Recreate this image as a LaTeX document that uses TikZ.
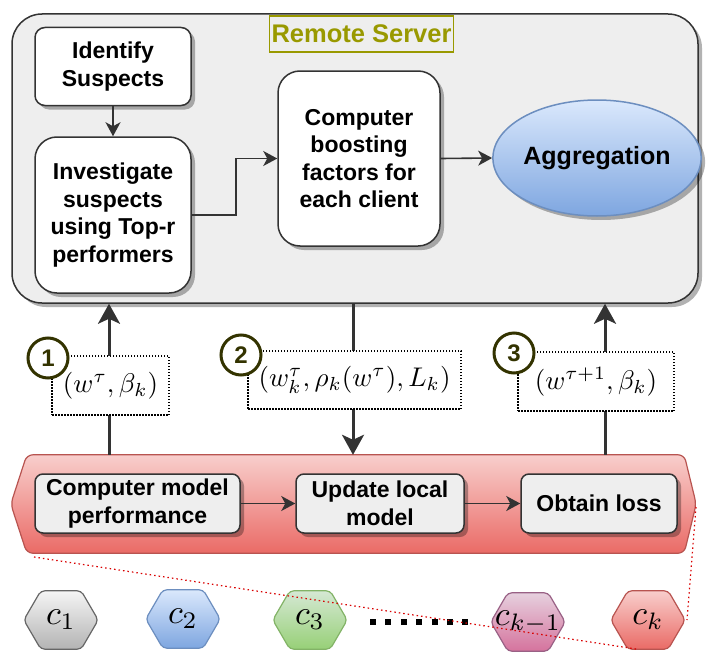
\documentclass[tikz,border=0pt]{standalone}
\usepackage{graphicx}
\usepackage{fontspec}
\setmainfont{Liberation Sans}
\usetikzlibrary{arrows.meta,shadows,shapes.geometric}
\definecolor{dk}{HTML}{333333}
\definecolor{srvfill}{HTML}{EEEEEE}
\definecolor{olivet}{HTML}{999900}
\definecolor{olived}{HTML}{333300}
\definecolor{grayT}{HTML}{F5F5F5}\definecolor{grayB}{HTML}{B3B3B3}\definecolor{grayS}{HTML}{666666}
\definecolor{blueT}{HTML}{DAE8FC}\definecolor{blueB}{HTML}{7EA6E0}\definecolor{blueS}{HTML}{6C8EBF}
\definecolor{greenT}{HTML}{D5E8D4}\definecolor{greenB}{HTML}{97D077}\definecolor{greenS}{HTML}{82B366}
\definecolor{purpT}{HTML}{E6D0DE}\definecolor{purpB}{HTML}{D5739D}\definecolor{purpS}{HTML}{996185}
\definecolor{redT}{HTML}{F8CECC}\definecolor{redB}{HTML}{EA6B66}\definecolor{redS}{HTML}{B85450}
\newcommand\mytxt{\fontsize{23}{27.6}\selectfont\bfseries}
\newcommand\lblmath[1]{\scalebox{2.7}{$#1$}}
\newcommand\hexmath[1]{\scalebox{3.4}{$#1$}}
\newcommand\clienthex[7]{%
  \node[hexgeo] (#1g) at (#2,#3) {};
  \path[draw=#6, line width=1.2pt, top color=#4, bottom color=#5, rounded corners=4pt]
    ([xshift=17pt]#1g.north west) -- ([xshift=-17pt]#1g.north east) -- (#1g.east)
    -- ([xshift=-17pt]#1g.south east) -- ([xshift=17pt]#1g.south west) -- (#1g.west) -- cycle;
  \node[hexlbl] (#1) at (#1g) {\hexmath{#7}};}
\begin{document}
\begin{tikzpicture}[x=1pt,y=-1pt,
  shad/.style={drop shadow={shadow xshift=4pt,shadow yshift=-4pt,opacity=0.3,fill=black}},
  server/.style={draw=dk, line width=1.5pt, fill=srvfill, rounded corners=30pt, inner sep=0, shad},
  box/.style={draw=dk, line width=1.5pt, fill=white, align=center, font=\mytxt, inner sep=0, shad},
  gbox/.style={draw=dk, line width=1.5pt, fill=srvfill, align=center, font=\mytxt, inner sep=0, rounded corners=8pt, shad, minimum height=59},
  title/.style={draw=olivet, line width=1.5pt, text=olivet, font=\fontsize{25.5}{30}\selectfont\bfseries, inner sep=2pt, minimum height=36pt},
  agg/.style={ellipse, draw=blueS, line width=1.5pt, top color=blueT, bottom color=blueB, font=\fontsize{25}{28}\selectfont\bfseries, inner sep=0, shad},
  sarrow/.style={draw=dk, line width=1.6pt, -{Stealth[length=14pt,width=15pt,inset=4pt]}},
  bigarrow/.style={draw=dk, line width=3pt, -{Stealth[length=20pt,width=22pt,inset=5pt]}},
  lbl/.style={draw=black, line width=1.2pt, dash pattern=on 1.5pt off 1.5pt, fill=white, inner sep=0},
  num/.style={circle, draw=olived, line width=3pt, fill=white, minimum size=40pt, inner sep=0, text=olived, font=\fontsize{24}{28}\selectfont\bfseries},
  hexgeo/.style={minimum width=74pt, minimum height=58pt, inner sep=0},
  hexlbl/.style={inner sep=0},
  reddot/.style={draw=red!85!black, line width=1.2pt, dash pattern=on 1.5pt off 3pt}
]
\useasboundingbox (0,0) rectangle (711,661);

% server
\node[server, minimum width=686pt, minimum height=289pt] (srv) at (355,158.5) {};
\node[title] (ttl) at (361.5,34) {Remote Server};
\node[box, rounded corners=10pt, minimum width=156pt, minimum height=78pt] (ident) at (113,66.5) {Identify\\Suspects};
\node[box, rounded corners=22pt, minimum width=156pt, minimum height=156pt] (inv) at (113,215) {Investigate\\suspects\\using Top-r\\performers};
\node[box, rounded corners=22pt, minimum width=162pt, minimum height=175pt] (comp) at (359,158.5) {Computer\\boosting\\factors for\\each client};
\node[agg, minimum width=175pt, minimum height=116pt] (aggr) at (597,158) {Aggregation};
\draw[sarrow] (ident.south) -- (inv.north);
\draw[sarrow] (inv.east) -- ++(44,0) |- (comp.west);
\draw[sarrow] (comp.east) -- (aggr.west);

% client area
\node[minimum width=685pt, minimum height=98pt, inner sep=0] (client) at (353.5,504) {};
\path[draw=redS, line width=1.2pt, top color=redT, bottom color=redB, rounded corners=6pt]
  ([xshift=16pt]client.north west) -- ([xshift=-12pt]client.north east) -- (client.east)
  -- ([xshift=-12pt]client.south east) -- ([xshift=16pt]client.south west) -- (client.west) -- cycle;
\node[gbox, minimum width=205pt] (cmp) at (137.5,503.5) {Computer model\\performance};
\node[gbox, minimum width=168pt] (upd) at (380,503.5) {Update local\\model};
\node[gbox, minimum width=156pt] (obt) at (599,503.5) {Obtain loss};
\draw[sarrow] (cmp.east) -- (upd.west);
\draw[sarrow] (upd.east) -- (obt.west);

% vertical arrows
\coordinate (a1) at (109,0);
\coordinate (a2) at (353,0);
\coordinate (a3) at (605,0);
\draw[bigarrow] (a1 |- client.north) -- (a1 |- srv.south);
\draw[bigarrow] (a2 |- srv.south) -- (a2 |- client.north);
\draw[bigarrow] (a3 |- client.north) -- (a3 |- srv.south);

\node[lbl, minimum width=117pt, minimum height=59pt] (l1) at (110.5,385.5) {\lblmath{(w^\tau,\beta_k)}};
\node[lbl, minimum width=213pt, minimum height=58pt] (l2) at (354.5,380) {\lblmath{(w_k^\tau,\rho_k(w^\tau),L_k)}};
\node[lbl, minimum width=156pt, minimum height=59pt] (l3) at (596,381.5) {\lblmath{(w^{\tau+1},\beta_k)}};
\node[num] (n1) at (48,358) {1};
\node[num] (n2) at (241,355) {2};
\node[num] (n3) at (514,353) {3};

% clients
\clienthex{c1}{61}{620}{grayT}{grayB}{grayS}{c_1}
\clienthex{c2}{183}{619}{blueT}{blueB}{blueS}{c_2}
\clienthex{c3}{310}{620}{greenT}{greenB}{greenS}{c_3}
\clienthex{ck1}{528}{622}{purpT}{purpB}{purpS}{c_{k-1}}
\clienthex{ck}{648}{620}{redT}{redB}{redS}{c_k}
\coordinate (dotA) at (370,622);
\coordinate (dotB) at (468.5,622);
\draw[black, line width=6pt, dash pattern=on 6pt off 9.4pt] (dotA) -- (dotB);

% red dotted
\coordinate (r1) at (34,557);
\coordinate (r2) at (636,649);
\coordinate (r3) at (696,507);
\coordinate (r4) at (687,620);
\draw[reddot] (r1) -- (r2);
\draw[reddot] (r3) -- (r4);
\end{tikzpicture}
\end{document}
